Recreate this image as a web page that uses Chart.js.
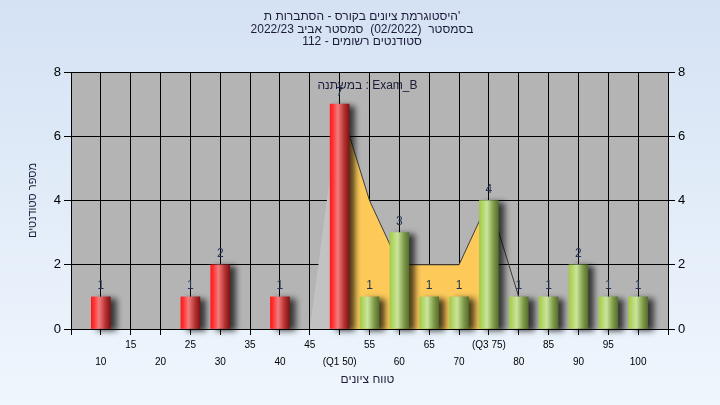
<!DOCTYPE html>
<html>
<head>
<meta charset="utf-8">
<script src="https://cdn.jsdelivr.net/npm/chart.js@4.4.0/dist/chart.umd.min.js"></script>
<style>
    html, body { margin: 0; padding: 0; background: #e6eff9; }
    canvas { display: block; }
</style>
</head>
<body>
<canvas id="histChart" width="720" height="405"></canvas>
<script>
// Histogram data (grade buckets and number of students)
const scores = [10, 15, 20, 25, 30, 35, 40, 45, 50, 55, 60, 65, 70, 75, 80, 85, 90, 95, 100];
const students = [1, 0, 0, 1, 2, 0, 1, 0, 7, 1, 3, 1, 1, 4, 1, 1, 2, 1, 1];

// Frequency polygon behind the bars
const polyScores = [45, 50, 55, 60, 65, 70, 75, 80];
const polyValues = [0, 7, 4, 2, 2, 2, 4, 1];

// Quartiles and their tick labels
const q1 = 50;
const q3 = 75;
const quartileLabels = { 50: '(Q1 50)', 75: '(Q3 75)' };

const yTicks = [0, 2, 4, 6, 8];

// Texts (with the direction used to draw them)
const titleLines = [
    { text: "היסטוגרמת ציונים בקורס - הסתברות ת'", dir: 'ltr' },
    { text: 'בסמסטר  (02/2022)  סמסטר אביב 2022/23', dir: 'rtl' },
    { text: 'סטודנטים רשומים - 112', dir: 'rtl' }
];
const variableLabel = 'במשתנה : Exam_B';
const xTitle = 'טווח ציונים';
const yTitle = 'מספר סטודנטים';

const FONT = '"Liberation Sans", Arial, "DejaVu Sans", sans-serif';

// Gradient for each bar, across its width
function barGradient(c) {
    const fail = c.raw && c.raw.x <= q1;
    const xs = c.chart.scales.x;
    const px = xs && c.raw ? xs.getPixelForValue(c.raw.x) : NaN;
    if (!isFinite(px)) return fail ? '#e03030' : '#a0c050';
    const g = c.chart.ctx.createLinearGradient(px - 9.5, 0, px + 9.5, 0);
    if (fail) {
        g.addColorStop(0, '#ff1a1a');
        g.addColorStop(0.15, '#ff3535');
        g.addColorStop(0.4, '#f27c7c');
        g.addColorStop(0.75, '#b53030');
        g.addColorStop(1, '#7e1414');
    } else {
        g.addColorStop(0, '#a2ca4e');
        g.addColorStop(0.15, '#b2d662');
        g.addColorStop(0.4, '#cbe49c');
        g.addColorStop(0.75, '#7e9a48');
        g.addColorStop(1, '#56702e');
    }
    return g;
}

function polyPoints(test) {
    return polyScores
        .map((s, i) => ({ x: s, y: polyValues[i] }))
        .filter(p => test(p.x));
}

// Background gradient and grey plot area
const backdrop = {
    id: 'backdrop',
    beforeDraw(chart) {
        const { ctx, chartArea: a, width, height } = chart;
        const g = ctx.createLinearGradient(0, 0, 0, height);
        g.addColorStop(0, '#d5e2f4');
        g.addColorStop(1, '#eff6fd');
        ctx.save();
        ctx.fillStyle = g;
        ctx.fillRect(0, 0, width, height);
        ctx.fillStyle = '#b4b4b4';
        ctx.fillRect(a.left, a.top, a.right - a.left, a.bottom - a.top);
        ctx.restore();
    }
};

// Soft shadow to the right of the bars
const barShadow = {
    id: 'barShadow',
    beforeDatasetDraw(chart, args) {
        if (args.index !== 0) return;
        const ctx = chart.ctx;
        ctx.save();
        ctx.shadowColor = 'rgba(0, 0, 0, 0.7)';
        ctx.shadowBlur = 6;
        ctx.shadowOffsetX = 6;
        ctx.shadowOffsetY = 2;
    },
    afterDatasetDraw(chart, args) {
        if (args.index === 0) chart.ctx.restore();
    }
};

// Value labels, titles and other texts
const texts = {
    id: 'texts',
    afterDatasetsDraw(chart) {
        const ctx = chart.ctx;
        const a = chart.chartArea;
        const meta = chart.getDatasetMeta(0);
        ctx.save();
        ctx.font = '12px ' + FONT;
        ctx.textAlign = 'center';
        ctx.textBaseline = 'bottom';
        ctx.fillStyle = '#233352';
        meta.data.forEach((bar, i) => {
            if (students[i] > 0) ctx.fillText(students[i], bar.x, bar.y - 5);
        });
        ctx.fillStyle = '#1c1c3a';
        ctx.textBaseline = 'middle';
        ctx.direction = 'ltr';
        ctx.fillText(variableLabel, (a.left + a.right) / 2 - 2, a.top + 14);
        ctx.restore();
    },
    afterDraw(chart) {
        const ctx = chart.ctx;
        const a = chart.chartArea;
        ctx.save();
        ctx.fillStyle = '#1c1c3a';
        ctx.textAlign = 'center';
        ctx.textBaseline = 'middle';
        ctx.font = '12px ' + FONT;
        titleLines.forEach((line, i) => {
            ctx.direction = line.dir;
            ctx.fillText(line.text, chart.width / 2 + 2, 16.5 + i * 12.75);
        });
        ctx.direction = 'rtl';
        ctx.fillText(xTitle, (a.left + a.right) / 2 - 2, 380);
        ctx.translate(33, (a.top + a.bottom) / 2);
        ctx.rotate(-Math.PI / 2);
        ctx.font = '11px ' + FONT;
        ctx.fillText(yTitle, 0, 0);
        ctx.restore();
    }
};

const ctx = document.getElementById('histChart').getContext('2d');
const histChart = new Chart(ctx, {
    data: {
        datasets: [
            {
                type: 'bar',
                // empty buckets get no bar at all
                data: scores.map((s, i) => ({ x: s, y: students[i] || null })),
                backgroundColor: barGradient,
                borderWidth: 0,
                barThickness: 19,
                clip: false,
                order: 0
            },
            {
                type: 'line',
                data: polyPoints(s => s <= q1),
                backgroundColor: '#c2c2c2',
                borderColor: 'rgba(0,0,0,0)',
                fill: 'origin',
                pointRadius: 0,
                tension: 0,
                order: 1
            },
            {
                type: 'line',
                data: polyPoints(s => s >= q1 && s <= q3),
                backgroundColor: '#fdca5a',
                borderColor: '#3c3c3c',
                borderWidth: 1,
                fill: 'origin',
                pointRadius: 0,
                tension: 0,
                order: 1
            },
            {
                type: 'line',
                data: polyPoints(s => s >= q3),
                borderColor: '#3c3c3c',
                borderWidth: 1,
                fill: false,
                pointRadius: 0,
                tension: 0,
                order: 1
            }
        ]
    },
    options: {
        responsive: false,
        animation: false,
        devicePixelRatio: 1,
        layout: { padding: { top: 72, left: 0, right: 0, bottom: 0 } },
        plugins: {
            legend: { display: false },
            tooltip: { enabled: false },
            title: { display: false }
        },
        scales: {
            x: {
                type: 'linear',
                min: 5,
                max: 105,
                offset: false,
                afterFit: s => { s.height = 76; },
                ticks: {
                    stepSize: 5,
                    maxRotation: 0,
                    autoSkip: false,
                    padding: 2,
                    color: '#000',
                    font: { family: FONT, size: 10, lineHeight: 1.7 },
                    callback: value => {
                        if (value <= 5 || value >= 105) return '';
                        const label = quartileLabels[value] || String(value);
                        return (value / 5) % 2 === 1 ? label : ['', label];
                    }
                },
                grid: { color: '#000', lineWidth: 1, tickLength: 6, offset: false },
                border: { color: '#000' }
            },
            y: {
                position: 'left',
                min: yTicks[0],
                max: yTicks[yTicks.length - 1],
                afterFit: s => { s.width = 71; },
                afterBuildTicks: s => { s.ticks = yTicks.map(v => ({ value: v })); },
                ticks: { padding: 3, color: '#000', font: { family: FONT, size: 13 } },
                grid: { color: '#000', lineWidth: 1, tickLength: 7 },
                border: { color: '#000' }
            },
            y2: {
                position: 'right',
                min: yTicks[0],
                max: yTicks[yTicks.length - 1],
                afterFit: s => { s.width = 52; },
                afterBuildTicks: s => { s.ticks = yTicks.map(v => ({ value: v })); },
                ticks: { padding: 3, color: '#000', font: { family: FONT, size: 13 } },
                grid: { drawOnChartArea: false, color: '#000', tickLength: 7 },
                border: { color: '#000' }
            }
        }
    },
    plugins: [backdrop, barShadow, texts]
});
</script>
</body>
</html>
